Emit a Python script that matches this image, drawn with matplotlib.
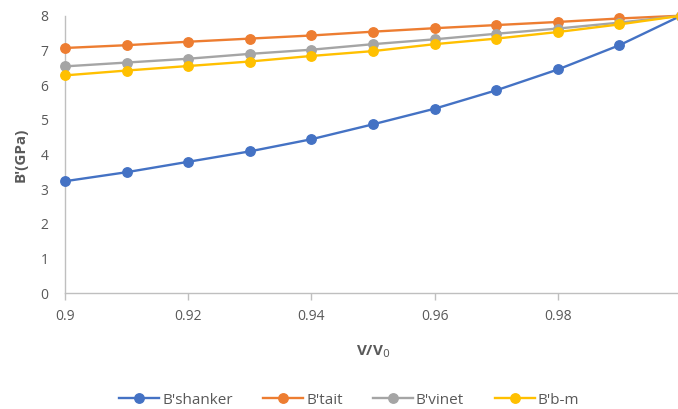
import matplotlib
matplotlib.use("Agg")
import matplotlib.pyplot as plt

plt.rcParams.update({"font.family": ["Open Sans", "DejaVu Sans"], "font.size": 10})

v_ratio = [0.90, 0.91, 0.92, 0.93, 0.94, 0.95, 0.96, 0.97, 0.98, 0.99, 1.00]
b_shanker = [3.23, 3.49, 3.79, 4.09, 4.44, 4.87, 5.32, 5.85, 6.45, 7.15, 8.0]
b_tait = [7.07, 7.15, 7.25, 7.34, 7.43, 7.54, 7.64, 7.73, 7.82, 7.92, 8.0]
b_vinet = [6.54, 6.65, 6.76, 6.90, 7.02, 7.18, 7.32, 7.48, 7.63, 7.80, 8.0]
b_bm = [6.28, 6.42, 6.55, 6.68, 6.84, 6.98, 7.18, 7.34, 7.53, 7.75, 8.0]

series = [
    ("B'shanker", b_shanker, "#4472C4"),
    ("B'tait", b_tait, "#ED7D31"),
    ("B'vinet", b_vinet, "#A5A5A5"),
    ("B'b-m", b_bm, "#FFC000"),
]

TXT = "#595959"
AX = "#BFBFBF"

fig = plt.figure(figsize=(6.78, 4.09), dpi=100)
ax = fig.add_axes([0.0959, 0.2829, 0.9086, 0.6787])

for name, vals, col in series:
    ax.plot(v_ratio, vals, "-o", color=col, lw=1.7, ms=6.8, label=name, clip_on=False, zorder=3)

ax.set_xlim(0.9, 1.0)
ax.set_ylim(0, 8)
ax.set_xticks([0.9, 0.92, 0.94, 0.96, 0.98, 1.0])
ax.set_xticklabels(["0.9", "0.92", "0.94", "0.96", "0.98", "1"])
ax.set_yticks(range(0, 9))

for s in ["top", "right"]:
    ax.spines[s].set_visible(False)
for s in ["left", "bottom"]:
    ax.spines[s].set_color(AX)
    ax.spines[s].set_linewidth(1.0)
ax.tick_params(axis="x", colors=AX, labelcolor=TXT, length=5, width=1, pad=6)
ax.tick_params(axis="y", length=0, labelcolor=TXT, pad=12)

ax.set_xlabel("V/V$_0$", color=TXT, fontweight="bold", fontsize=11, labelpad=14)
ax.set_ylabel("B'(GPa)", color=TXT, fontweight="bold", fontsize=11, labelpad=9)

leg = fig.legend(loc="lower center", bbox_to_anchor=(0.515, -0.03), ncol=4, frameon=False,
                 fontsize=11, handlelength=2.6, columnspacing=2.0, handletextpad=0.2)
for t in leg.get_texts():
    t.set_color(TXT)

fig.savefig("out.png", dpi=100, facecolor="white")
